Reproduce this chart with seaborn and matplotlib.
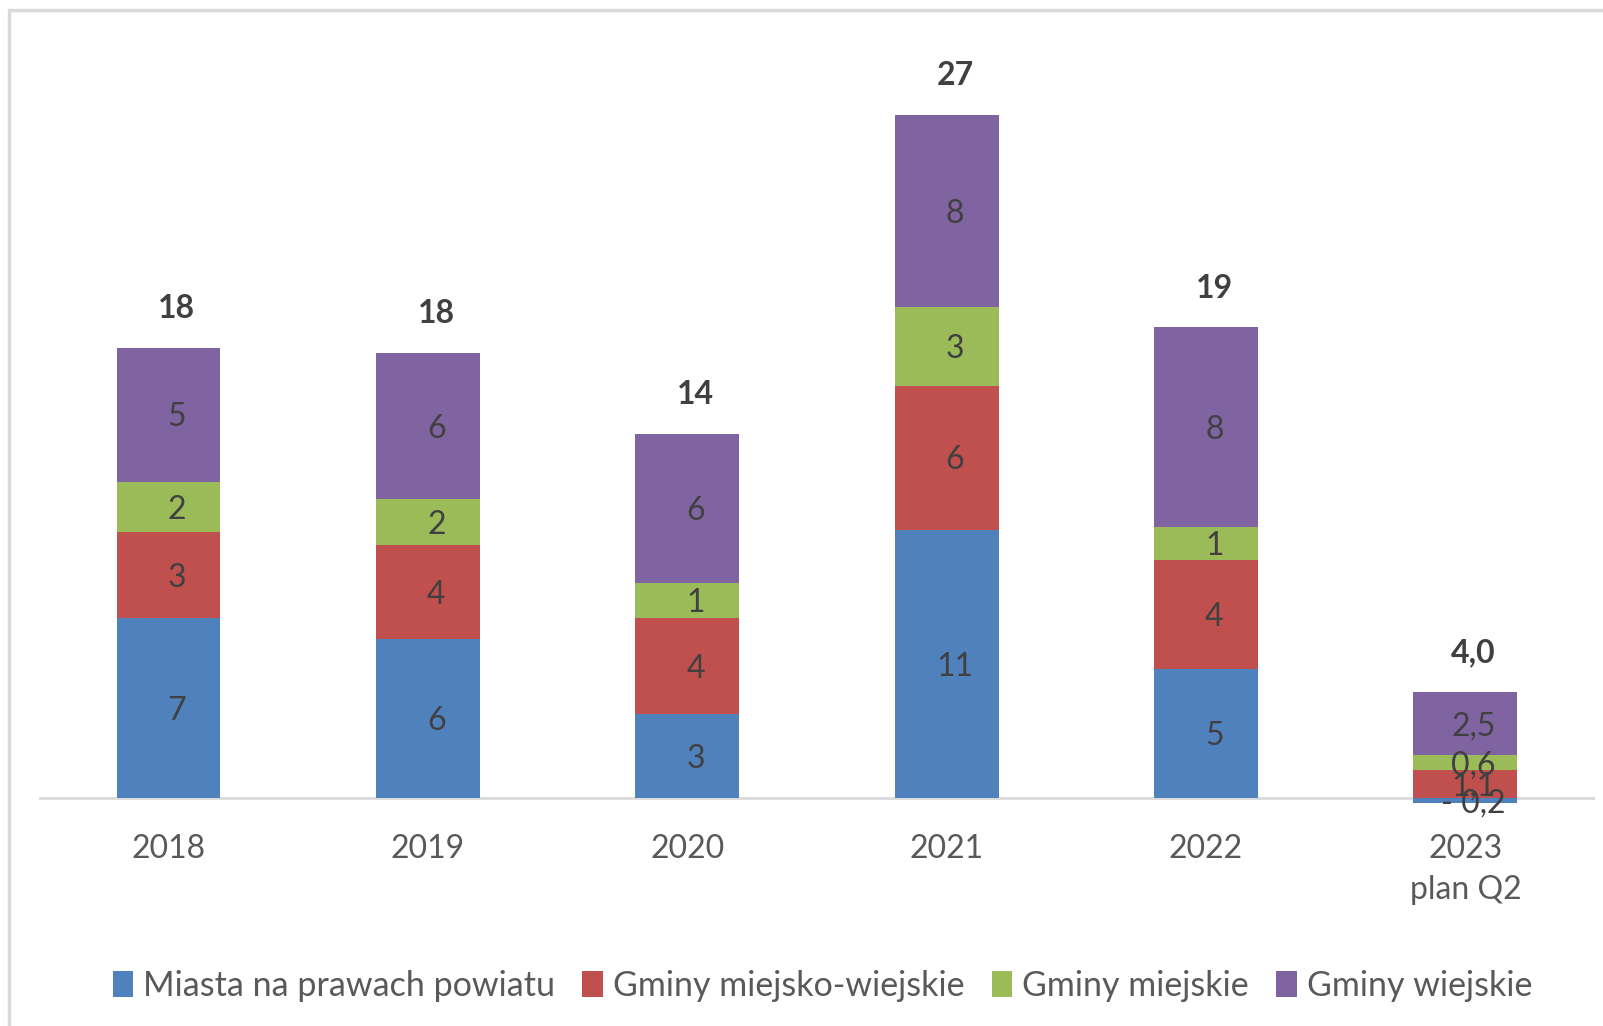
import numpy as np
import pandas as pd
import seaborn as sns
import matplotlib.pyplot as plt
from matplotlib.patches import Rectangle

years = ['2018', '2019', '2020', '2021', '2022', '2023\nplan Q2']
series = ['Miasta na prawach powiatu', 'Gminy miejsko-wiejskie', 'Gminy miejskie', 'Gminy wiejskie']
miasta = [7.1, 6.3, 3.3, 10.6, 5.1, -0.2]
gminy_mw = [3.4, 3.7, 3.8, 5.7, 4.3, 1.1]
gminy_m = [2.0, 1.8, 1.4, 3.1, 1.3, 0.6]
gminy_w = [5.3, 5.8, 5.9, 7.6, 7.9, 2.5]
decimals = [0, 0, 0, 0, 0, 1]  # 2023 plan shown with one decimal
colors = ['#4F81BD', '#C0504D', '#9BBB59', '#8064A2']

df = pd.DataFrame({'rok': years, series[0]: miasta, series[1]: gminy_mw,
                   series[2]: gminy_m, series[3]: gminy_w})

sns.set_theme(style='white')
plt.rcParams['font.family'] = ['Lato', 'DejaVu Sans']

fig = plt.figure(figsize=(16.03, 10.26), dpi=100)
ax = fig.add_axes([0.0243, 0.1976, 0.9707, 0.7644])


def fmt(v, d):
    s = f'{abs(v):.{d}f}'.replace('.', ',')
    return '- ' + s if v < 0 else s


pos_base = np.zeros(len(years))
neg_base = np.zeros(len(years))
for name, col in zip(series, colors):
    vals = df[name].to_numpy()
    bottom = np.where(vals >= 0, pos_base, neg_base)
    sns.barplot(data=df, x='rok', y=name, color=col, width=0.4, bottom=bottom,
                label=name, ax=ax, saturation=1, linewidth=0)
    for i, v in enumerate(vals):
        ax.annotate(fmt(v, decimals[i]), (i, bottom[i] + v / 2), xytext=(6, -2),
                    textcoords='offset points', ha='center', va='center',
                    fontsize=23, color='#404040')
    pos_base = pos_base + np.clip(vals, 0, None)
    neg_base = neg_base + np.clip(vals, None, 0)

totals = df[series].sum(axis=1).to_numpy()
for i, t in enumerate(totals):
    ax.annotate(fmt(t, decimals[i]), (i, pos_base[i]), xytext=(6, 28),
                textcoords='offset points', ha='center', va='center',
                fontsize=23, fontweight='bold', color='#404040')

ax.axhline(0, color='#D9D9D9', lw=2, zorder=0.5)
ax.set_ylim(-1, 30)
ax.set_xlim(-0.5, 5.5)
ax.set_xlabel('')
ax.set_ylabel('')
ax.set_yticks([])
for s in ax.spines.values():
    s.set_visible(False)
ax.tick_params(axis='x', length=0, pad=8, labelsize=23, labelcolor='#595959')
for lbl in ax.get_xticklabels():
    lbl.set_linespacing(1.45)

if ax.legend_:
    ax.legend_.remove()
handles, labels = ax.get_legend_handles_labels()
fig.legend(handles, labels, loc='center', bbox_to_anchor=(0.513, 1 - 986 / 1026), ncol=4,
           frameon=False, fontsize=24.5, labelcolor='#595959', handlelength=0.6,
           handleheight=0.8, handletextpad=0.3, columnspacing=0.8)

fig.patches.append(Rectangle((9 / 1603, -0.1), 2, 0.1 + 1 - 10 / 1026, transform=fig.transFigure,
                             fill=False, edgecolor='#D9D9D9', lw=2.5))

fig.savefig('out.png', dpi=100)
